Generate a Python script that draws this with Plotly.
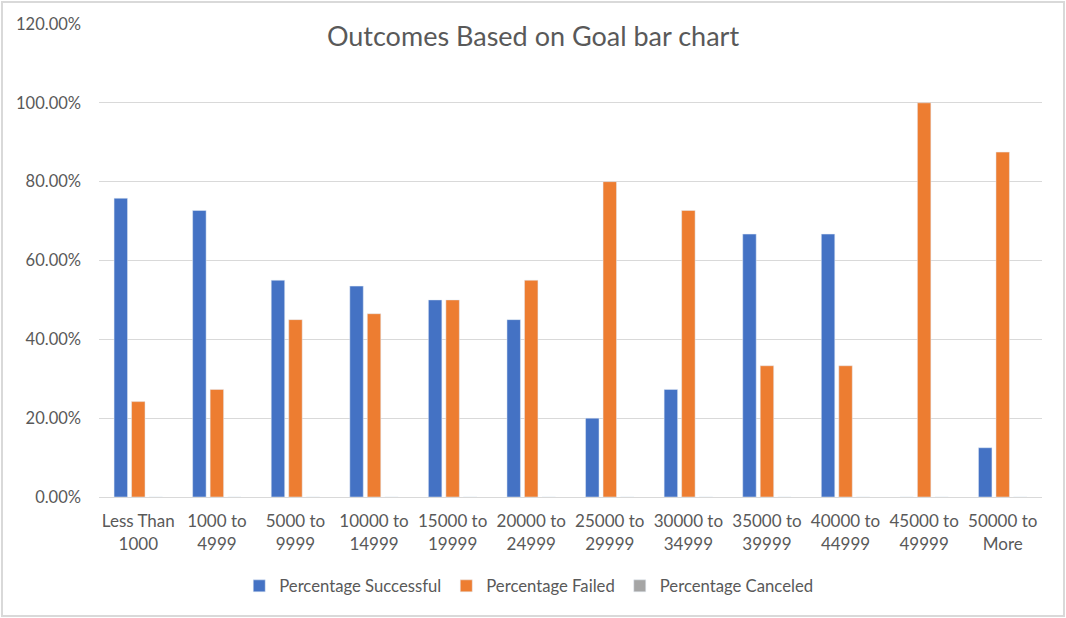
import plotly.graph_objects as go

# goal ranges (x categories)
goal_ranges = ["Less Than 1000", "1000 to 4999", "5000 to 9999", "10000 to 14999",
               "15000 to 19999", "20000 to 24999", "25000 to 29999", "30000 to 34999",
               "35000 to 39999", "40000 to 44999", "45000 to 49999", "50000 to More"]
tick_labels = ["Less Than<br>1000", "1000 to<br>4999", "5000 to<br>9999", "10000 to<br>14999",
               "15000 to<br>19999", "20000 to<br>24999", "25000 to<br>29999", "30000 to<br>34999",
               "35000 to<br>39999", "40000 to<br>44999", "45000 to<br>49999", "50000 to<br>More"]

# percentages
pct_successful = [0.758, 0.727, 0.55, 0.535, 0.50, 0.45, 0.20, 0.273, 0.667, 0.667, 0.0, 0.125]
pct_failed = [0.242, 0.273, 0.45, 0.465, 0.50, 0.55, 0.80, 0.727, 0.333, 0.333, 1.0, 0.875]
pct_canceled = [0, 0, 0, 0, 0, 0, 0, 0, 0, 0, 0, 0]

text_col = "#595959"
grid_col = "#D9D9D9"

fig = go.Figure()
fig.add_trace(go.Bar(x=goal_ranges, y=pct_successful, name="Percentage Successful",
                     marker_color="#4472C4"))
fig.add_trace(go.Bar(x=goal_ranges, y=pct_failed, name="Percentage Failed",
                     marker_color="#ED7D31"))
fig.add_trace(go.Bar(x=goal_ranges, y=pct_canceled, name="Percentage Canceled",
                     marker_color="#A5A5A5"))

fig.update_layout(
    width=1066, height=618,
    margin=dict(l=99, r=24, t=24, b=121),
    paper_bgcolor="white", plot_bgcolor="white",
    font=dict(family="Lato, sans-serif", color=text_col, size=16),
    barmode="group", bargap=0.332, bargroupgap=0.23,
    title=dict(text="Outcomes Based on Goal bar chart", x=0.5, xref="container",
               y=1 - 37 / 618, yref="container", yanchor="middle", xanchor="center",
               font=dict(size=27, color=text_col)),
    legend=dict(orientation="h", xref="container", yref="container",
                x=0.496, xanchor="center", y=1 - 586 / 618, yanchor="middle",
                font=dict(size=16.7, color=text_col), itemwidth=30),
    showlegend=True,
)
fig.update_xaxes(tickmode="array", tickvals=goal_ranges, ticktext=tick_labels,
                 showgrid=False, showline=True, linecolor=grid_col, linewidth=1,
                 ticks="", ticklabelstandoff=9, tickfont=dict(size=17, color=text_col))
fig.update_yaxes(range=[0, 1.2], dtick=0.2, tickformat=".2%",
                 showgrid=True, gridcolor=grid_col, gridwidth=1, zeroline=False,
                 showline=False, ticks="", ticklabelstandoff=17,
                 tickfont=dict(size=16.5, color=text_col))

# light outer border around the chart area
fig.add_shape(type="rect", xref="paper", yref="paper",
              x0=(2 - 99) / 943, x1=(1064 - 99) / 943,
              y0=(497 - 616) / 473, y1=(497 - 2) / 473,
              line=dict(color=grid_col, width=2), fillcolor="rgba(0,0,0,0)", layer="below")

# drop the default page margin so the figure sits at the window corner
fig.write_html("out.html", config={"displayModeBar": False},
               post_script="document.body.style.margin='0';")
